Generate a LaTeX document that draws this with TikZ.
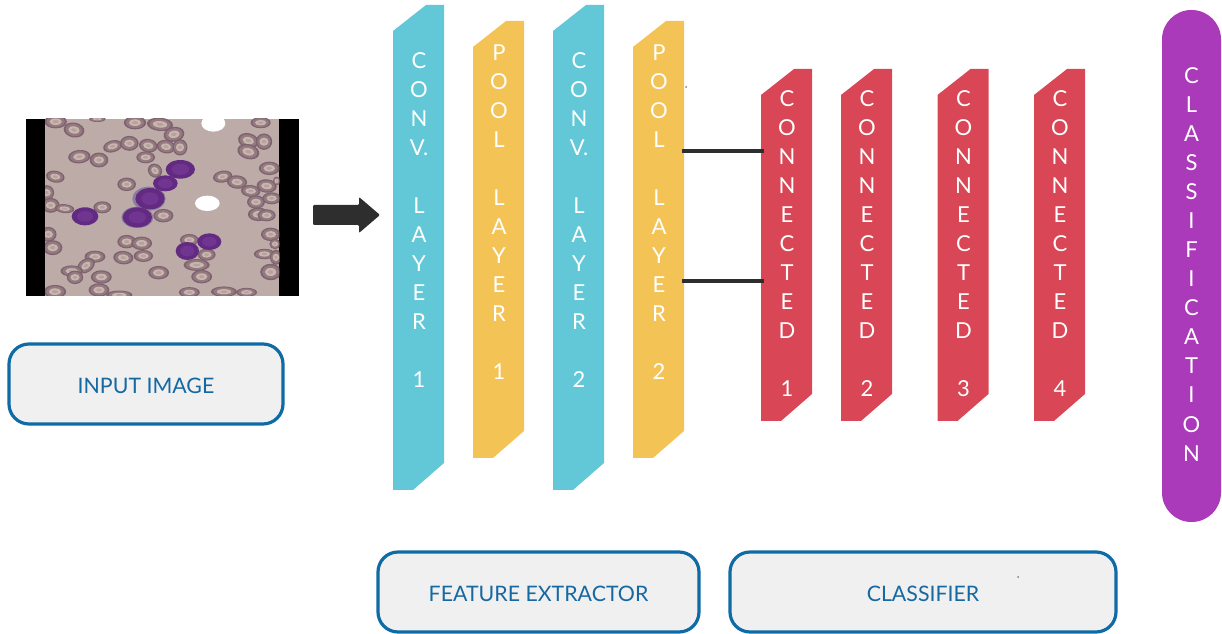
\documentclass[tikz,border=0pt]{standalone}
\usepackage{fontspec}
\setmainfont{Lato}
\definecolor{convc}{HTML}{62C8D7}
\definecolor{poolc}{HTML}{F4C356}
\definecolor{connc}{HTML}{D94655}
\definecolor{classc}{HTML}{AB3ABB}
\definecolor{boxline}{HTML}{0F6BA6}
\definecolor{boxfill}{HTML}{F0F0F0}
\definecolor{boxtext}{HTML}{1668A3}
\definecolor{dark}{HTML}{2E2E2E}
\definecolor{smear}{HTML}{BDABA8}
\definecolor{cellout}{HTML}{7D6270}
\definecolor{cellmain}{HTML}{94797F}
\definecolor{cellin}{HTML}{C9B7AF}
\definecolor{cellmid}{HTML}{B5A19E}
\definecolor{blast}{HTML}{632A82}
\definecolor{blastb}{HTML}{6F3590}
\definecolor{halo}{HTML}{8A7CA0}
\newcommand{\column}[7]{% name, left x, top y, bottom y, colour, text offset, text
  \fill[#5] (#2,#3+26) -- (#2+33,#3) -- (#2+51,#3) -- (#2+51,#4-27) -- (#2+20,#4) -- (#2,#4) -- cycle;
  \node[anchor=center,minimum width=38.25pt,minimum height={(#4-#3)*0.75pt},inner sep=0pt] (#1) at (#2+25.5,{(#3+#4)/2}) {};
  \node[lettering,anchor=north] (#1t) at (#2+26,#3+#6) {#7};
}
\newcommand{\boxlabel}[1]{\raisebox{-7.3pt}[0pt][0pt]{#1}}
\tikzset{
  lettering/.style={text=white,font=\fontsize{16.5}{21.8}\selectfont,align=center,inner sep=0pt},
  labelbox/.style={draw=boxline,line width=2.4pt,fill=boxfill,rounded corners=15pt,text=boxtext,
    font=\fontsize{16}{19}\selectfont,inner sep=0pt},
  link/.style={dark,line width=3.6pt},
}
\newcommand{\redcell}[5]{%
  \begin{scope}[shift={(#1,#2)},rotate=#5]
  \fill[cellout] (0,0) ellipse [x radius=1.12*#3,y radius=1.12*#4];
  \fill[cellmain] (0,0) ellipse [x radius=0.92*#3,y radius=0.92*#4];
  \fill[cellin] (0,0) ellipse [x radius=0.62*#3,y radius=0.55*#4];
  \fill[cellmid] (0,0) ellipse [x radius=0.3*#3,y radius=0.25*#4];
  \end{scope}}
\begin{document}
\begin{tikzpicture}[x=0.75pt,y=-0.75pt]
\useasboundingbox (0,0) rectangle (1222,634);
% microscope image
\begin{scope}[shift={(0,100)},x=0.25pt,y=-0.25pt]
  \fill[black] (77,57) rectangle (896,587);
  \fill[smear] (135,57) rectangle (838,587);
  \begin{scope}
  \clip (135,57) rectangle (838,587);
  \foreach \a/\b/\c/\d/\e in {167/65/30/18/0,222/90/28/20/-10,292/57/22/8/0,405/68/30/18/0,480/73/35/18/-5,522/103/28/20/10,782/68/27/15/0,745/122/28/20/-15,792/125/22/22/0,745/155/30/20/-15,338/139/26/16/15,388/130/25/20/0,445/137/25/18/-10,498/140/25/18/-10,540/142/20/22/0,437/172/25/16/0,238/170/30/18/5,297/180/25/20/0,465/212/20/18/-40,808/205/28/18/0,166/230/25/16/-10,380/253/25/18/0,668/230/26/16/10,711/246/27/18/-5,752/273/26/16/-5,800/258/27/18/-5,830/243/10/12/0,768/306/24/18/0,815/295/25/16/0,140/278/20/20/0,152/316/24/20/0,194/326/26/12/-5,307/322/24/16/0,490/347/27/18/0,775/343/28/18/0,800/346/24/16/0,145/403/22/20/0,158/443/26/20/0,812/403/26/18/0,825/432/15/14/0,380/425/25/18/0,425/430/28/18/0,285/470/28/16/0,258/497/26/18/35,370/473/27/18/-5,430/468/26/16/0,215/513/30/15/0,225/532/22/18/0,304/531/28/18/0,476/518/28/18/0,590/495/35/16/0,605/530/28/18/0,793/462/28/14/0,828/472/16/20/0,812/516/28/22/0,620/464/24/16/0,568/420/25/16/0,165/575/30/18/0,297/570/28/18/0,358/585/35/12/0,568/577/28/14/0,672/575/35/14/0,740/577/28/12/0}
    {\redcell{\a}{\b}{\c}{\d}{\e}}
  \fill[halo] (447,296) ellipse [x radius=50,y radius=36];
  \fill[halo] (412,352) ellipse [x radius=48,y radius=32];
  \foreach \a/\b/\c/\d in {541/208/44/28,496/250/37/24,450/296/44/32,412/352/44/30,255/349/40/27,628/425/36/25,562/453/35/27}
    {\fill[blast] (\a,\b) ellipse [x radius=\c,y radius=\d];
     \fill[blastb] (\a,\b) ellipse [x radius=0.6*\c,y radius=0.6*\d];}
  \fill[white] (640,70) ellipse [x radius=36,y radius=25];
  \fill[white] (622,310) ellipse [x radius=37,y radius=23];
  \end{scope}
\end{scope}
% arrow
\fill[dark,rounded corners=0.8pt] (313,205) -- (359,205) -- (359,197) -- (380,215) -- (359,233) -- (359,225) -- (313,225) -- cycle;
% layers
\column{conva}{393}{5}{490}{convc}{47}{C\\O\\N\\V.\\~\\L\\A\\Y\\E\\R\\~\\1}
\column{poola}{473}{21}{458}{poolc}{23}{P\\O\\O\\L\\~\\L\\A\\Y\\E\\R\\~\\1}
\column{convb}{553}{5}{490}{convc}{47}{C\\O\\N\\V.\\~\\L\\A\\Y\\E\\R\\~\\2}
\column{poolb}{633}{21}{458}{poolc}{23}{P\\O\\O\\L\\~\\L\\A\\Y\\E\\R\\~\\2}
\column{conna}{761}{69}{421}{connc}{21}{C\\O\\N\\N\\E\\C\\T\\E\\D\\~\\1}
\column{connb}{841}{69}{421}{connc}{21}{C\\O\\N\\N\\E\\C\\T\\E\\D\\~\\2}
\column{connc}{937.5}{69}{421}{connc}{21}{C\\O\\N\\N\\E\\C\\T\\E\\D\\~\\3}
\column{connd}{1034}{69}{421}{connc}{21}{C\\O\\N\\N\\E\\C\\T\\E\\D\\~\\4}
% connectors
\coordinate (upper) at (720,151);
\coordinate (lower) at (720,281);
\draw[link,shorten <=-1.5pt,shorten >=-2.2pt] (poolb.east |- upper) -- (conna.west |- upper);
\draw[link,shorten <=-1.5pt,shorten >=-2.2pt] (poolb.east |- lower) -- (conna.west |- lower);
% classification
\node[fill=classc,rounded corners=22pt,minimum width=44.25pt,minimum height=384pt,inner sep=0pt] (cls) at (1191.5,266) {};
\node[lettering,anchor=north] (clst) at (1191.5,67) {C\\L\\A\\S\\S\\I\\F\\I\\C\\A\\T\\I\\O\\N};
% labelled boxes
\node[labelbox,minimum width=205.5pt,minimum height=60pt] (inputbox) at (146,384) {\boxlabel{INPUT IMAGE}};
\node[labelbox,minimum width=240.75pt,minimum height=60pt] (featbox) at (538.5,592) {\boxlabel{FEATURE EXTRACTOR}};
\node[labelbox,minimum width=289.5pt,minimum height=60pt] (classbox) at (923,592) {\boxlabel{CLASSIFIER}};
% specks
\fill[gray] (686,87) circle (1);
\fill[gray] (1018,577) circle (1);
\end{tikzpicture}
\end{document}
